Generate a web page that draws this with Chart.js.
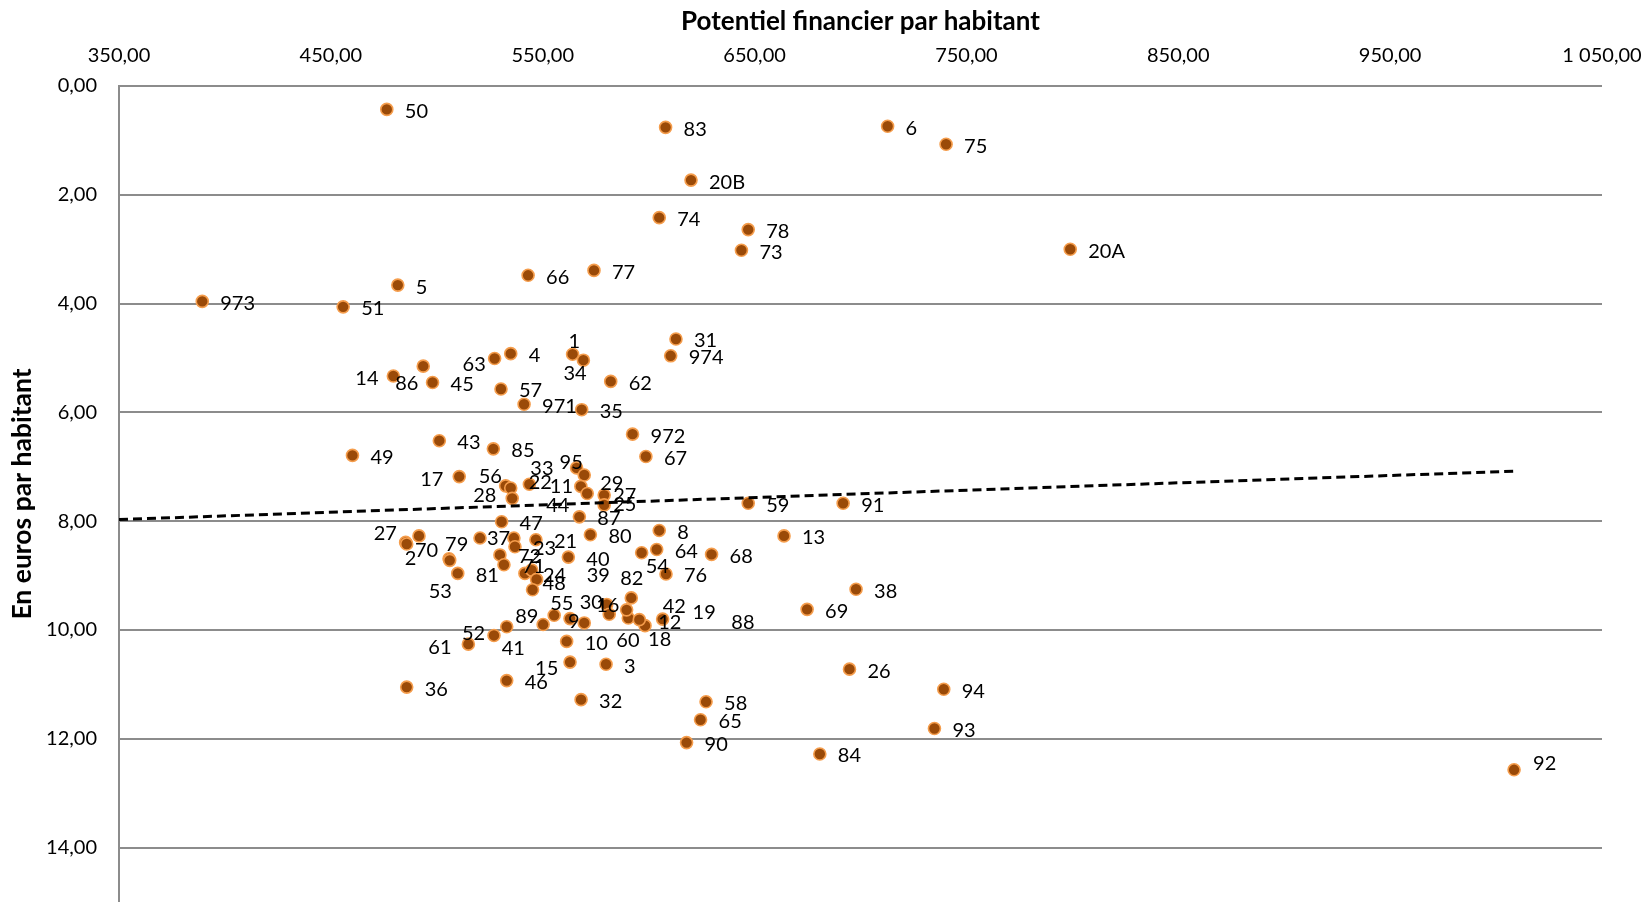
<!DOCTYPE html>
<html>
<head>
<meta charset="utf-8">
<script src="https://cdn.jsdelivr.net/npm/chart.js@4.4.1/dist/chart.umd.min.js"></script>
<style>
  html, body { margin: 0; padding: 0; background: #fff; overflow: hidden; }
  #wrap { width: 1647px; height: 902px; }
</style>
</head>
<body>
<div id="wrap"><canvas id="c" width="1647" height="902"></canvas></div>
<script>
// ---- Data ----
const deptLabels = [
  "50","83","6","75","20B","74","78","73","20A","77",
  "66","5","973","51","31","974","1","34","4","63",
  "14","86","45","57","62","971","35","972","67","43",
  "85","49","17","56","22","28","33","95","29","11",
  "44","27","25","87","47","80","8","64","54","68",
  "76","13","59","91","38","69","27","2","70","79",
  "53","81","37","","23","21","40","72","71","24",
  "39","","48","82","55","89","41","52","61","9",
  "12","30","16","60","18","42","19","88","10","15",
  "3","36","46","32","58","65","90","26","94","93",
  "84","92"
];
const potentielFinancier = [
  476.4,608.0,712.8,740.4,620.0,605.0,647.0,643.8,799.0,574.2,
  543.1,481.6,389.3,455.8,612.9,610.4,564.1,569.2,534.9,527.3,
  479.5,493.6,498.0,530.3,582.1,541.2,568.4,592.4,598.7,501.2,
  526.7,460.2,510.6,532.5,534.9,535.6,543.7,566.0,569.6,568.0,
  571.0,579.0,579.0,567.3,530.6,572.5,605.0,603.8,596.7,629.7,
  608.2,663.9,647.0,691.8,697.9,674.8,485.3,485.8,491.6,505.8,
  506.1,509.9,520.4,536.4,536.9,546.8,562.1,529.8,531.7,541.6,
  544.8,547.1,545.2,591.8,555.4,550.2,533.0,527.0,514.9,562.9,
  569.6,580.2,581.4,590.4,598.3,606.6,589.6,595.6,561.3,562.9,
  579.9,485.8,533.0,568.1,627.1,624.5,617.9,694.8,739.3,734.9,
  680.8,1008.5
];
const eurosParHabitant = [
  0.43,0.76,0.74,1.07,1.73,2.42,2.64,3.02,3.00,3.39,
  3.48,3.66,3.96,4.06,4.65,4.96,4.93,5.04,4.92,5.01,
  5.33,5.15,5.45,5.57,5.43,5.85,5.95,6.40,6.81,6.52,
  6.67,6.79,7.18,7.35,7.39,7.58,7.32,7.02,7.15,7.36,
  7.49,7.52,7.70,7.92,8.01,8.25,8.17,8.52,8.58,8.61,
  8.97,8.27,7.67,7.67,9.25,9.62,8.39,8.42,8.27,8.69,
  8.72,8.96,8.31,8.31,8.47,8.34,8.66,8.62,8.80,8.96,
  8.90,9.07,9.26,9.41,9.73,9.90,9.94,10.10,10.26,9.79,
  9.87,9.53,9.71,9.78,9.92,9.80,9.63,9.81,10.21,10.59,
  10.63,11.05,10.93,11.28,11.32,11.65,12.07,10.72,11.09,11.81,
  12.28,12.57
];
// Linear trend line end points
const trendX = [350, 1009];
const trendY = [7.97, 7.08];

const xTickValues = [350, 450, 550, 650, 750, 850, 950, 1050];

// ---- Label placement tweaks (style, pixel offsets from the marker) ----
const DEFAULT_OFFSET = [18, 2];
const labelOffsets = {
  "1|564.1": [-4, -13], "34|569.2": [-20, 13], "63|527.3": [-32, 6],
  "14|479.5": [-38, 3], "86|493.6": [-28, 17], "17|510.6": [-39, 3],
  "56|532.5": [-27, -9], "22|534.9": [18, -5], "28|535.6": [-39, -3],
  "33|543.7": [1, -16], "95|566": [-17, -5], "29|569.6": [16, 9],
  "11|568": [-31, 0], "44|571": [-41, 12], "27|579": [9, 0], "25|579": [9, 0],
  "54|596.7": [4, 14], "27|485.3": [-32, -9], "2|485.8": [-2, 14],
  "70|491.6": [-4, 15], "79|505.8": [-4, -14], "53|506.1": [-21, 31],
  "37|520.4": [7, 0], "39|544.8": [55, 5], "48|545.2": [10, -6],
  "82|591.8": [-11, -19], "55|555.4": [-4, -12], "89|550.2": [-28, -8],
  "41|533": [-5, 22], "52|527": [-32, -2], "61|514.9": [-40, 3],
  "9|562.9": [-2, 3], "12|569.6": [74, 0], "30|580.2": [-27, -2],
  "16|581.4": [-13, -9], "60|590.4": [-12, 23], "18|598.3": [3, 14],
  "42|606.6": [0, -13], "19|589.6": [66, 3], "88|595.6": [92, 3],
  "15|562.9": [-35, 6], "92|1008.5": [19, -6]
};

const points = potentielFinancier.map((x, i) => ({ x: x, y: eurosParHabitant[i], label: deptLabels[i] }));
const trend = trendX.map((x, i) => ({ x: x, y: trendY[i] }));

function frNum(v) {
  const s = v.toFixed(2).replace('.', ',');
  const [ip, dp] = s.split(',');
  const withSep = ip.replace(/\B(?=(\d{3})+(?!\d))/g, '\u00a0');
  return withSep + ',' + dp;
}

const GRID = '#8c8c8c';
const FONT = 'Lato, "Open Sans", sans-serif';

const labelPlugin = {
  id: 'pointLabels',
  afterDatasetDraw(chart, args) {
    if (args.index !== 0) return;
    const ctx = chart.ctx;
    const meta = chart.getDatasetMeta(0);
    ctx.save();
    ctx.font = '20px ' + FONT;
    ctx.fillStyle = '#000';
    ctx.textAlign = 'left';
    ctx.textBaseline = 'middle';
    meta.data.forEach((el, i) => {
      const p = points[i];
      if (!p.label) return;
      const off = labelOffsets[p.label + '|' + p.x] || DEFAULT_OFFSET;
      ctx.fillText(p.label, el.x + off[0], el.y + off[1]);
    });
    ctx.restore();
  }
};

new Chart(document.getElementById('c'), {
  type: 'scatter',
  data: {
    datasets: [
      {
        label: 'Départements',
        data: points,
        order: 1,
        pointRadius: 6,
        pointHoverRadius: 6,
        pointBackgroundColor: '#9a4a08',
        pointBorderColor: '#f59d4c',
        pointBorderWidth: 1.6,
        clip: false
      },
      {
        type: 'line',
        label: 'Tendance',
        data: trend,
        order: 0,
        borderColor: '#000',
        borderWidth: 3,
        borderDash: [9, 5],
        pointRadius: 0,
        fill: false,
        tension: 0
      }
    ]
  },
  options: {
    responsive: false,
    animation: false,
    devicePixelRatio: 1,
    layout: { autoPadding: false, padding: { left: 0, right: 45, top: 0, bottom: 0 } },
    plugins: {
      legend: { display: false },
      tooltip: { enabled: false }
    },
    scales: {
      x: {
        type: 'linear',
        position: 'top',
        min: 350,
        max: 1050,
        afterBuildTicks(scale) { scale.ticks = xTickValues.map(v => ({ value: v })); },
        afterFit(scale) {
          scale.height = 86;
          scale.paddingLeft = 0; scale.paddingRight = 0;
          scale.paddingTop = 0; scale.paddingBottom = 0;
        },
        grid: { display: false, drawTicks: true, tickLength: 18, tickColor: 'rgba(0,0,0,0)' },
        border: { display: false },
        ticks: {
          padding: 0,
          maxRotation: 0,
          autoSkip: false,
          color: '#000',
          font: { family: FONT, size: 20 },
          callback: v => frNum(v)
        },
        title: {
          display: true,
          text: 'Potentiel financier par habitant',
          color: '#000',
          font: { family: FONT, size: 26, weight: 'bold' },
          padding: { top: 6, bottom: 0 }
        }
      },
      y: {
        type: 'linear',
        reverse: true,
        min: 0,
        max: 15,
        afterBuildTicks(scale) { scale.ticks = scale.ticks.filter(t => Math.abs(t.value % 2) < 1e-9); },
        afterFit(scale) {
          scale.width = 119;
          scale.paddingLeft = 0; scale.paddingRight = 0;
          scale.paddingTop = 0; scale.paddingBottom = 0;
        },
        grid: { color: GRID, lineWidth: 2, drawTicks: true, tickLength: 22, tickColor: 'rgba(0,0,0,0)' },
        border: { display: true, color: GRID, width: 2 },
        ticks: {
          stepSize: 2,
          padding: 0,
          color: '#000',
          font: { family: FONT, size: 20 },
          callback: v => frNum(v)
        },
        title: {
          display: true,
          text: 'En euros par habitant',
          color: '#000',
          font: { family: FONT, size: 26.5, weight: 'bold' },
          padding: { top: 7, bottom: 0 }
        }
      }
    }
  },
  plugins: [labelPlugin]
});
</script>
</body>
</html>
